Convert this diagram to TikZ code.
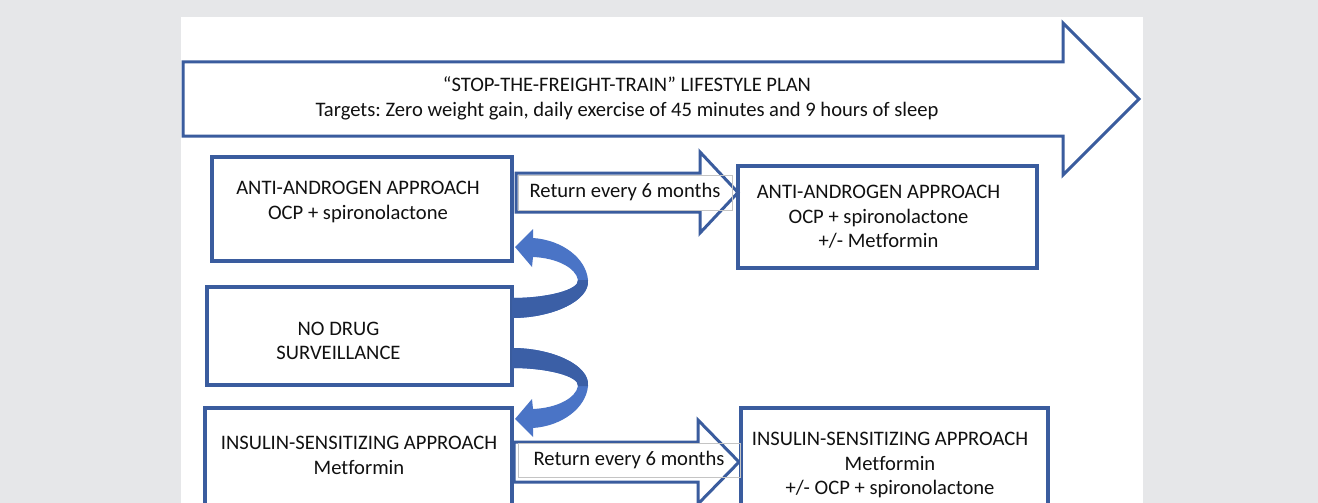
\documentclass[tikz,border=0pt]{standalone}
\usepackage{fontspec}
\setmainfont{Carlito}[Ligatures=CommonOff]
\frenchspacing
\definecolor{pagegray}{HTML}{E6E7E9}
\definecolor{planblue}{HTML}{3A5C9E}
\definecolor{turnlight}{HTML}{4A74C6}
\definecolor{turndark}{HTML}{3B5FA6}
\definecolor{labelgray}{HTML}{C4C4C4}
\definecolor{textblack}{HTML}{111111}

% curved block arrow leaving the right side of a box (origin at its east anchor)
\newcommand{\bentarrow}{%
    \fill[turnlight] (0,-18) .. controls (40,-18) and (78,-35) .. (76,-56)
        .. controls (74,-78) and (50,-96) .. (21,-98)
        -- (21,-107) -- (3,-89) -- (20,-69) -- (21,-79)
        .. controls (45,-78) and (64,-68) .. (66,-56)
        .. controls (67,-46) and (35,-38) .. (0,-38) -- cycle;
    \fill[turndark] (0,-18) .. controls (40,-18) and (78,-35) .. (76,-56)
        -- (66,-56) .. controls (67,-46) and (35,-38) .. (0,-38) -- cycle;
}

\begin{document}
\begin{tikzpicture}[
    x=1pt, y=-1pt,
    font=\fontsize{20.6}{24.4}\selectfont,
    every node/.style={text=textblack},
    stagebox/.style={
        rectangle,
        draw=planblue,
        line width=4pt,
        fill=white,
        inner sep=0pt,
        outer sep=0pt
    },
    stagetext/.style={
        align=center,
        inner sep=0pt
    },
    blockarrow/.style={
        draw=planblue,
        line width=3pt,
        fill=white,
        line join=miter
    },
    returnlabel/.style={
        draw=labelgray,
        line width=0.8pt,
        inner sep=0pt
    }
]

\fill[pagegray] (0,0) rectangle (1318,503);
\fill[white] (181,17) rectangle (1143,503);
\useasboundingbox (0,0) rectangle (1318,503);
\clip (0,0) rectangle (1318,503);

% lifestyle plan arrow
\draw[blockarrow] (183,62) -- (1063,62) -- (1063,23) -- (1139,99)
    -- (1063,175) -- (1063,136) -- (183,136) -- cycle;
\node[stagetext] (plan) at (627,98.5)
{“STOP-THE-FREIGHT-TRAIN” LIFESTYLE PLAN\\[0.5pt]
Targets: Zero weight gain, daily exercise of 45 minutes and 9 hours of sleep};

% treatment boxes
\node[stagebox, minimum width=300, minimum height=104] (antiL) at (362,209) {};
\node[stagebox, minimum width=299, minimum height=102] (antiR) at (887.5,217) {};
\node[stagebox, minimum width=305, minimum height=98] (nodrug) at (359.5,336) {};
\node[stagebox, minimum width=307, minimum height=104] (insulinL) at (358.5,460) {};
\node[stagebox, minimum width=307, minimum height=104] (insulinR) at (894.5,460) {};

\node[stagetext] (antiLtext) at ([shift={(-4,-7)}]antiL.center)
{ANTI-ANDROGEN APPROACH\\OCP + spironolactone};
\node[stagetext] (antiRtext) at ([shift={(-9,0)}]antiR.center)
{ANTI-ANDROGEN APPROACH\\OCP + spironolactone\\+/- Metformin};
\node[stagetext] (nodrugtext) at ([shift={(-21,5)}]nodrug.center)
{NO DRUG\\SURVEILLANCE};
\node[stagetext] (insulinLtext) at (359,455.5)
{INSULIN-SENSITIZING APPROACH\\Metformin};
\node[stagetext] (insulinRtext) at (890,465)
{INSULIN-SENSITIZING APPROACH\\Metformin\\+/- OCP + spironolactone};

% return arrows
\draw[blockarrow] (516,173) -- (700,173) -- (700,152) -- (738,192.5)
    -- (700,233) -- (700,212) -- (516,212) -- cycle;
\node[returnlabel, minimum width=214, minimum height=35] (returnA) at (625,192.5)
{Return every 6 months};

\draw[blockarrow] (514,442) -- (698,442) -- (698,420) -- (739,462)
    -- (698,504) -- (698,482) -- (514,482) -- cycle;
\node[returnlabel, minimum width=222, minimum height=34] (returnB) at (629,460)
{Return every 6 months};

% switching arrows
\begin{scope}[shift={(nodrug.east)}]
    \bentarrow
\end{scope}
\begin{scope}[shift={(nodrug.east)}, yshift=6pt, yscale=-1]
    \bentarrow
\end{scope}

\end{tikzpicture}
\end{document}
